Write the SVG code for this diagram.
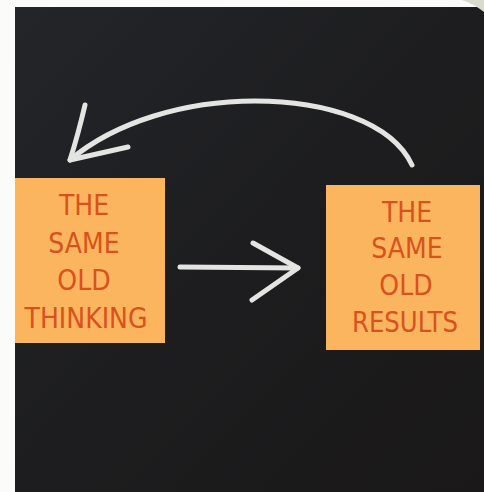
<svg xmlns="http://www.w3.org/2000/svg" width="484" height="492" viewBox="0 0 484 492">
  <defs>
    <linearGradient id="board" x1="0" y1="0" x2="1" y2="1">
      <stop offset="0" stop-color="#232529"/>
      <stop offset="0.5" stop-color="#1d1d1f"/>
      <stop offset="1" stop-color="#1a1818"/>
    </linearGradient>
    <style>
      .note { fill: #fcb55f; }
      .lbl { font-family: "DejaVu Sans Condensed", "DejaVu Sans", "Liberation Sans", sans-serif; font-stretch: condensed; font-size: 28px; fill: #d9521d; text-anchor: middle; }
      .chalk { fill: none; stroke: #e4e4e2; stroke-width: 5; stroke-linecap: round; stroke-linejoin: round; }
    </style>
  </defs>
  <rect x="0" y="0" width="484" height="492" fill="#fbfbf9"/>
  <rect x="15" y="7" width="469" height="485" fill="url(#board)"/>
  <path d="M462 0 L484 0 L484 12 Q474 4 462 0 Z" fill="#d9dccd"/>

  <g id="connectors">
    <path class="chalk" d="M412 165 C392 122 325 101 255 101 C185 101 115 122 70 160"/>
    <path class="chalk" d="M85 105 Q78 135 70 160 L128 147"/>
    <path class="chalk" d="M180 267 L298 268"/>
    <path class="chalk" d="M253 243 L298 268 L252 300"/>
  </g>

  <g id="node-thinking">
    <rect class="note" x="15" y="178" width="150" height="165"/>
    <text class="lbl" x="84" y="215">THE</text>
    <text class="lbl" x="84" y="253">SAME</text>
    <text class="lbl" x="84" y="290">OLD</text>
    <text class="lbl" x="86" y="328" textLength="123" lengthAdjust="spacingAndGlyphs">THINKING</text>
  </g>

  <g id="node-results">
    <rect class="note" x="326" y="185" width="154" height="165"/>
    <text class="lbl" x="407" y="222">THE</text>
    <text class="lbl" x="407" y="258">SAME</text>
    <text class="lbl" x="406" y="295">OLD</text>
    <text class="lbl" x="405" y="332" textLength="106" lengthAdjust="spacingAndGlyphs">RESULTS</text>
  </g>
</svg>
